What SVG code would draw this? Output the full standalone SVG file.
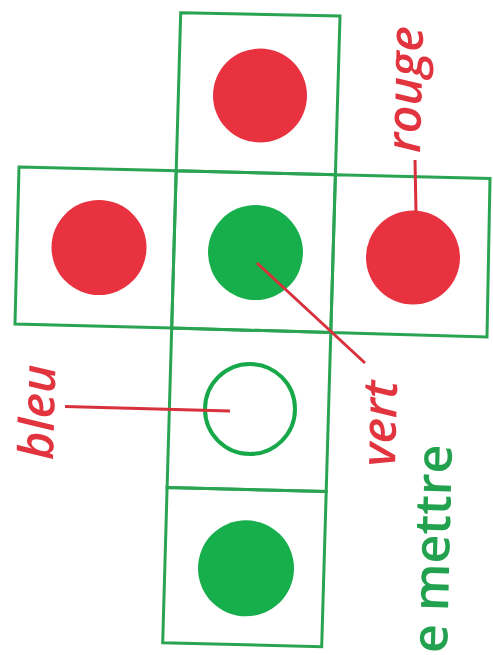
<svg xmlns="http://www.w3.org/2000/svg" width="493" height="655" viewBox="0 0 493 655">
<style>
.face{fill:none;stroke:#2aa452;stroke-width:3;stroke-linejoin:miter}
.red{fill:#e8323f}
.grn{fill:#17ae4c}
.ring{fill:none;stroke:#17a84a;stroke-width:4}
.lead{stroke:#d8303c;stroke-width:3;fill:none;stroke-linecap:butt}
.lbl{font-family:"Open Sans","DejaVu Sans",sans-serif;font-size:48px;font-style:italic;font-weight:600;fill:#e2343f}
.title{font-family:"Open Sans","DejaVu Sans",sans-serif;font-size:50px;font-weight:600;fill:#22a24e}
</style>
<rect width="493" height="655" fill="#ffffff"/>
<g id="face-top">
<polygon class="face" points="180.7,12.7 340,16 335.4,174.7 176.2,170.8"/>
<circle class="red" cx="260" cy="95.5" r="47"/>
</g>
<g id="face-left">
<polygon class="face" points="19,167 176.2,170.8 171.7,328 15,324"/>
<circle class="red" cx="99" cy="247.5" r="47.5"/>
</g>
<g id="face-center">
<polygon class="face" points="176.2,170.8 335.4,174.7 330.8,332.5 171.7,328"/>
<circle class="grn" cx="255.5" cy="252.5" r="47.5"/>
</g>
<g id="face-right">
<polygon class="face" points="335.4,174.7 490,178.5 487,337 330.8,332.5"/>
<circle class="red" cx="413" cy="257.5" r="47"/>
</g>
<g id="face-blue">
<polygon class="face" points="171.7,328 330.8,332.5 326.2,491.5 167.1,487.5"/>
<circle class="ring" cx="250" cy="409" r="45"/>
</g>
<g id="face-bottom">
<polygon class="face" points="167.1,487.5 326.2,491.5 321.7,646.7 162.7,642.7"/>
<circle class="grn" cx="246" cy="568.3" r="48"/>
</g>
<g id="connectors">
<line class="lead" x1="415" y1="160" x2="416" y2="212"/>
<line class="lead" x1="65" y1="406.5" x2="230" y2="411"/>
<line class="lead" x1="257" y1="263" x2="365" y2="363"/>
</g>
<g id="labels">
<text class="lbl" transform="translate(420,153) rotate(-88.6)">rouge</text>
<text class="lbl" transform="translate(53,460) rotate(-88.6)">bleu</text>
<text class="lbl" transform="translate(395,467) rotate(-88.6)">vert</text>
<text class="title" text-anchor="end" transform="translate(452,445) rotate(-88.6)">e mettre</text>
</g>
</svg>
